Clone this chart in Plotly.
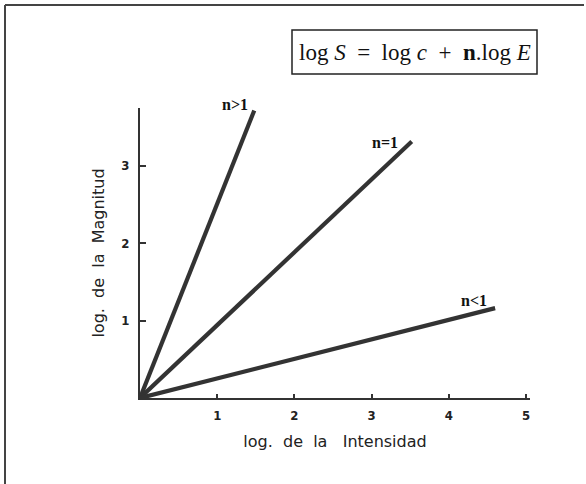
import plotly.graph_objects as go

# Power-law (Stevens) response lines in log-log form: log S = log c + n·log E
series_labels = ["n>1", "n=1", "n<1"]
x_start = [0.0, 0.0, 0.0]
y_start = [0.0, 0.0, 0.0]
x_end = [1.48, 3.52, 4.60]
y_end = [3.71, 3.31, 1.16]
# label offsets (px) relative to each line's end
label_dx = [-19, -27, -21]
label_dy = [6, -1, 8]

x_ticks = [1, 2, 3, 4, 5]
y_ticks = [1, 2, 3]

W, H = 586, 484
L, R, T, B = 140, 530, 108, 398  # plot area in px
x_max = (R - L) / 77.2
y_max = (B - T) / 77.5

fig = go.Figure()
ink = "#333333"
for i, name in enumerate(series_labels):
    fig.add_trace(go.Scatter(
        x=[x_start[i], x_end[i]], y=[y_start[i], y_end[i]],
        mode="lines", line=dict(color=ink, width=4.2),
        showlegend=False, hoverinfo="skip",
    ))
    fig.add_annotation(
        x=x_end[i], y=y_end[i], text=f"<b>{name}</b>",
        showarrow=False, xshift=label_dx[i], yshift=label_dy[i],
        font=dict(family="Liberation Serif", size=16, color="#111111"),
    )

def px_x(p):
    return (p - L) / (R - L)

def px_y(p):
    return (B - p) / (B - T)

# equation box
fig.add_shape(type="rect", xref="paper", yref="paper",
              x0=px_x(292), x1=px_x(537), y0=px_y(74), y1=px_y(30),
              line=dict(color="#222222", width=1.5), fillcolor="white")
fig.add_annotation(
    xref="paper", yref="paper", x=px_x(415), y=px_y(52),
    text="log <i>S</i>  =  log <i>c</i>  +  <b>n</b>.log <i>E</i>",
    showarrow=False, xanchor="center", yanchor="middle",
    font=dict(family="Liberation Serif", size=23, color="#111111"),
)

# outer frame (top and left edges)
fig.add_shape(type="line", xref="paper", yref="paper",
              x0=px_x(5), x1=px_x(584), y0=px_y(5), y1=px_y(5),
              line=dict(color="#444444", width=2))
fig.add_shape(type="line", xref="paper", yref="paper",
              x0=px_x(5), x1=px_x(5), y0=px_y(5), y1=px_y(484),
              line=dict(color="#444444", width=2))

tick_font = dict(family="DejaVu Sans Condensed, DejaVu Sans", size=13,
                 color="#222222", weight="bold")
title_font = dict(family="DejaVu Sans", size=16, color="#222222")

fig.update_xaxes(
    range=[0, x_max], tickvals=x_ticks, ticktext=[str(v) for v in x_ticks],
    showgrid=False, zeroline=False, showline=True, linecolor=ink, linewidth=2,
    ticks="inside", ticklen=4, tickwidth=1.5, tickcolor=ink,
    tickfont=tick_font, ticklabelstandoff=4,
    title=dict(text="log.  de  la   Intensidad", font=title_font, standoff=14),
)
fig.update_yaxes(
    range=[0, y_max], tickvals=y_ticks, ticktext=[str(v) for v in y_ticks],
    showgrid=False, zeroline=False, showline=True, linecolor=ink, linewidth=2,
    ticks="inside", ticklen=6, tickwidth=1.5, tickcolor=ink,
    tickfont=tick_font, ticklabelstandoff=6,
    title=dict(text="log.  de  la  Magnitud", font=title_font, standoff=13),
)

fig.update_layout(
    width=W, height=H,
    margin=dict(l=L, r=W - R, t=T, b=H - B),
    paper_bgcolor="white", plot_bgcolor="white",
)

fig.write_html("out.html")
